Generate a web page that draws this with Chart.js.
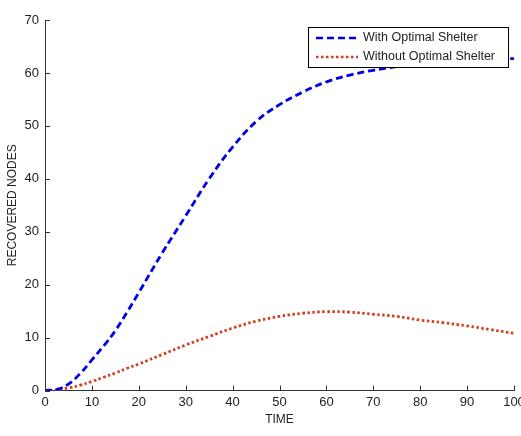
<!DOCTYPE html>
<html>
<head>
<meta charset="utf-8">
<script src="https://cdn.jsdelivr.net/npm/chart.js@4/dist/chart.umd.min.js"></script>
<style>
  html, body { margin: 0; padding: 0; background: #fff; }
  #wrap { width: 521px; height: 436px; }
</style>
</head>
<body>
<div id="wrap"><canvas id="recoveredChart"></canvas></div>
<script>
// Sample data
const timePoints = [0, 2.5, 5, 7.5, 10, 12.5, 15, 17.5, 20, 25, 30, 35, 40, 45, 50, 55, 60, 65, 70, 75, 80, 85, 90, 95, 100];
const withShelter = [0, 0.2, 1.2, 3.2, 5.8, 8.4, 11.3, 14.8, 18.5, 26.0, 33.0, 40.0, 46.0, 50.8, 54.0, 56.4, 58.3, 59.6, 60.5, 61.2, 61.7, 62.1, 62.4, 62.6, 62.7];
const withoutShelter = [0, 0.1, 0.5, 1.0, 1.7, 2.5, 3.3, 4.2, 5.0, 6.8, 8.6, 10.2, 11.8, 13.1, 14.0, 14.6, 14.9, 14.8, 14.4, 14.0, 13.3, 12.8, 12.2, 11.5, 10.8];
const seriesNames = ['With Optimal Shelter', 'Without Optimal Shelter'];
const xTicks = [0, 10, 20, 30, 40, 50, 60, 70, 80, 90, 100];
const yTicks = [0, 10, 20, 30, 40, 50, 60, 70];

const blue = '#0000e6';
const red = '#d2401e';
const axisColor = '#333';
const textColor = '#222';

function toPoints(values) {
    return timePoints.map((t, i) => ({x: t, y: values[i]}));
}

// inward tick marks, like the matlab figure
const innerTicks = {
    id: 'innerTicks',
    afterDraw(chart) {
        const ctx = chart.ctx;
        const xs = chart.scales.x, ys = chart.scales.y;
        const area = chart.chartArea;
        ctx.save();
        ctx.strokeStyle = axisColor;
        ctx.lineWidth = 1;
        ctx.beginPath();
        xTicks.forEach(v => {
            const px = Math.round(xs.getPixelForValue(v)) + 0.5;
            ctx.moveTo(px, area.bottom);
            ctx.lineTo(px, area.bottom - 5);
        });
        yTicks.forEach(v => {
            const py = Math.round(ys.getPixelForValue(v)) + 0.5;
            ctx.moveTo(area.left, py);
            ctx.lineTo(area.left + 5, py);
        });
        ctx.stroke();
        ctx.restore();
    }
};

// legend box drawn inside the plot, over the lines
const boxLegend = {
    id: 'boxLegend',
    afterDatasetsDraw(chart) {
        const ctx = chart.ctx;
        const x0 = 308.5, y0 = 27.5, w = 200, h = 40;
        ctx.save();
        ctx.fillStyle = '#fff';
        ctx.fillRect(x0, y0, w, h);
        ctx.strokeStyle = '#000';
        ctx.lineWidth = 1;
        ctx.strokeRect(x0, y0, w, h);
        const rows = [
            {y: 38, color: blue, dash: [7, 4]},
            {y: 57, color: red, dash: [2.5, 2.5]}
        ];
        rows.forEach((r, i) => {
            ctx.beginPath();
            ctx.setLineDash(r.dash);
            ctx.strokeStyle = r.color;
            ctx.lineWidth = 2.5;
            ctx.moveTo(316, r.y);
            ctx.lineTo(358, r.y);
            ctx.stroke();
            ctx.setLineDash([]);
            ctx.fillStyle = textColor;
            ctx.font = '12.5px "Liberation Sans", Arial, sans-serif';
            ctx.textBaseline = 'middle';
            ctx.textAlign = 'left';
            ctx.fillText(seriesNames[i], 363, r.y);
        });
        ctx.restore();
    }
};

const tickFont = {family: '"Liberation Sans", Arial, sans-serif', size: 13};

new Chart(document.getElementById('recoveredChart').getContext('2d'), {
    type: 'line',
    data: {
        datasets: [
            {
                label: seriesNames[0],
                data: toPoints(withShelter),
                borderColor: blue,
                borderWidth: 2.8,
                borderDash: [7, 4],
                pointRadius: 0,
                tension: 0.4,
                fill: false
            },
            {
                label: seriesNames[1],
                data: toPoints(withoutShelter),
                borderColor: red,
                borderWidth: 2.8,
                borderDash: [2.5, 2.5],
                pointRadius: 0,
                tension: 0.4,
                fill: false
            }
        ]
    },
    options: {
        responsive: true,
        maintainAspectRatio: false,
        animation: false,
        layout: {padding: {top: 20, right: 7, left: 0, bottom: 0}},
        plugins: {legend: {display: false}, tooltip: {enabled: false}},
        scales: {
            x: {
                type: 'linear',
                min: 0,
                max: 100,
                afterBuildTicks: s => { s.ticks = xTicks.map(v => ({value: v})); },
                afterFit: s => { s.height = 45.5; s.paddingLeft = 0; s.paddingRight = 0; },
                grid: {display: false, drawTicks: false},
                border: {display: true, color: axisColor, width: 1},
                ticks: {color: textColor, font: tickFont, padding: 4, maxRotation: 0},
                title: {
                    display: true,
                    text: 'TIME',
                    color: textColor,
                    font: {family: '"Liberation Sans", Arial, sans-serif', size: 12},
                    padding: {top: 0, bottom: 9}
                }
            },
            y: {
                min: 0,
                max: 70,
                afterBuildTicks: s => { s.ticks = yTicks.map(v => ({value: v})); },
                afterFit: s => { s.width = 45; },
                grid: {display: false, drawTicks: false},
                border: {display: true, color: axisColor, width: 1},
                ticks: {color: textColor, font: tickFont, padding: 6},
                title: {
                    display: true,
                    text: 'RECOVERED NODES',
                    color: textColor,
                    font: {family: '"Liberation Sans", Arial, sans-serif', size: 12},
                    padding: {top: 5, bottom: 0}
                }
            }
        }
    },
    plugins: [innerTicks, boxLegend]
});
</script>
</body>
</html>
